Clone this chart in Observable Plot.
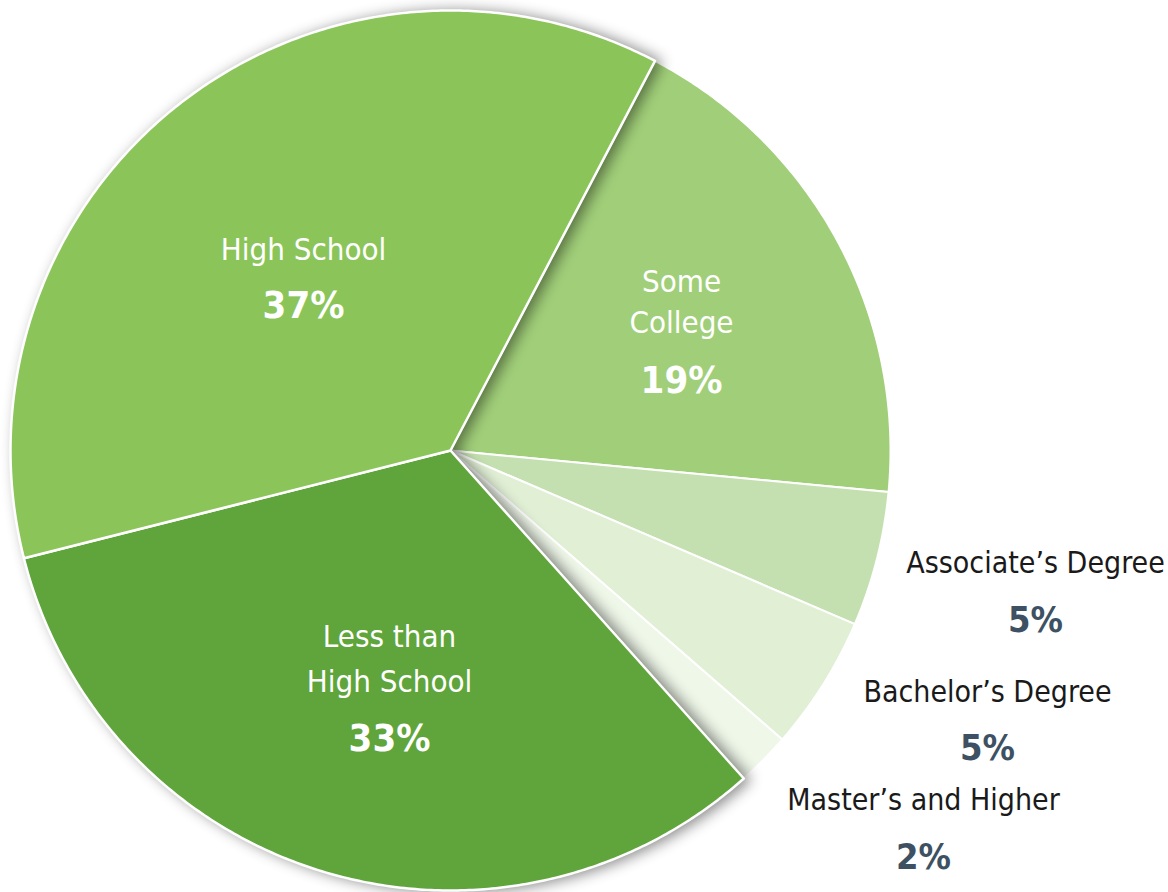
<!DOCTYPE html>
<html>
<head>
<meta charset="utf-8">
<script src="https://cdn.jsdelivr.net/npm/d3@7"></script>
<script src="https://cdn.jsdelivr.net/npm/@observablehq/plot@0.6"></script>
<style>
  html, body { margin: 0; padding: 0; background: #ffffff; }
  #chart { width: 1168px; height: 892px; }
</style>
</head>
<body>
<div id="chart"></div>
<script>
// ---- data ----
const categories = ["Some College", "Associate’s Degree", "Bachelor’s Degree", "Master’s and Higher", "Less than High School", "High School"];
const values = [19, 5, 5, 2, 33, 37];
const pctLabels = ["19%", "5%", "5%", "2%", "33%", "37%"];
const nameLines = [["Some", "College"], ["Associate’s Degree"], ["Bachelor’s Degree"], ["Master’s and Higher"], ["Less than", "High School"], ["High School"]];
const colors = ["#a1cf79", "#c5e0b0", "#e1efd5", "#eff7e9", "#5fa53b", "#8bc55a"];
const bigSlices = ["Less than High School", "High School"];

// ---- layout (not data) ----
const W = 1168, H = 892;
const cx = 450, cy = 450, R = 440;
const startDeg = 27.7;
const labelLayout = {
  "Some College": {x: 681, ys: [282, 323], py: 380, inside: true},
  "Associate’s Degree": {x: 1035, ys: [563], py: 620, inside: false},
  "Bachelor’s Degree": {x: 987, ys: [692], py: 748, inside: false},
  "Master’s and Higher": {x: 923, ys: [800], py: 857, inside: false},
  "Less than High School": {x: 389, ys: [637, 682], py: 738, inside: true},
  "High School": {x: 303, ys: [250], py: 305, inside: true}
};

const pie = d3.pie().sort(null).value(d => d.value)
  .startAngle(startDeg * Math.PI / 180)
  .endAngle(startDeg * Math.PI / 180 + 2 * Math.PI);
const rows = categories.map((c, i) => ({cat: c, value: values[i], pct: pctLabels[i], lines: nameLines[i]}));
const arcs = pie(rows);

// polygon vertices for each slice (angle clockwise from 12 o'clock)
const pts = [];
for (const a of arcs) {
  const cat = a.data.cat;
  pts.push({cat, x: cx, y: cy});
  const n = Math.max(2, Math.ceil((a.endAngle - a.startAngle) / (Math.PI / 360)));
  for (let k = 0; k <= n; k++) {
    const t = a.startAngle + (a.endAngle - a.startAngle) * k / n;
    pts.push({cat, x: cx + R * Math.sin(t), y: cy - R * Math.cos(t)});
  }
  pts.push({cat, x: cx, y: cy});
}

const textRows = [];
for (const r of rows) {
  const L = labelLayout[r.cat];
  r.lines.forEach((t, j) => textRows.push({text: t, x: L.x, y: L.ys[j], kind: L.inside ? "inName" : "outName"}));
  textRows.push({text: r.pct, x: L.x, y: L.py, kind: L.inside ? "inPct" : "outPct"});
}

const FONT = "'Liberation Sans Narrow', 'Arial Narrow', 'DejaVu Sans Condensed', Roboto, sans-serif";

const plot = Plot.plot({
  width: W,
  height: H,
  margin: 0,
  x: {domain: [0, W], range: [0, W], axis: null},
  y: {domain: [0, H], range: [0, H], axis: null},
  color: {type: "ordinal", domain: categories, range: colors},
  style: {fontFamily: FONT, background: "#ffffff"},
  marks: [
    Plot.line(pts.filter(d => !bigSlices.includes(d.cat)), {
      x: "x", y: "y", z: "cat", fill: "cat", stroke: "#ffffff", strokeWidth: 2, curve: "linear"
    }),
    Plot.line(pts.filter(d => bigSlices.includes(d.cat)), {
      x: "x", y: "y", z: "cat", fill: "cat", stroke: "#ffffff", strokeWidth: 2.5, curve: "linear"
    }),
    Plot.text(textRows.filter(d => d.kind === "inName"), {
      x: "x", y: "y", text: "text", fill: "#ffffff", fontSize: 31, lineAnchor: "middle"
    }),
    Plot.text(textRows.filter(d => d.kind === "inPct"), {
      x: "x", y: "y", text: "text", fill: "#ffffff", fontSize: 38, fontWeight: "bold", lineAnchor: "middle"
    }),
    Plot.text(textRows.filter(d => d.kind === "outName"), {
      x: "x", y: "y", text: "text", fill: "#1a1a1a", fontSize: 30, lineAnchor: "middle"
    }),
    Plot.text(textRows.filter(d => d.kind === "outPct"), {
      x: "x", y: "y", text: "text", fill: "#3d5162", fontSize: 36, fontWeight: "bold", lineAnchor: "middle"
    })
  ]
});

const lineGroups = plot.querySelectorAll('g[aria-label="line"]');
if (lineGroups.length > 1) lineGroups[1].style.filter = "drop-shadow(6px 1px 7px rgba(0,0,0,0.45))";

document.getElementById("chart").appendChild(plot);
</script>
</body>
</html>
